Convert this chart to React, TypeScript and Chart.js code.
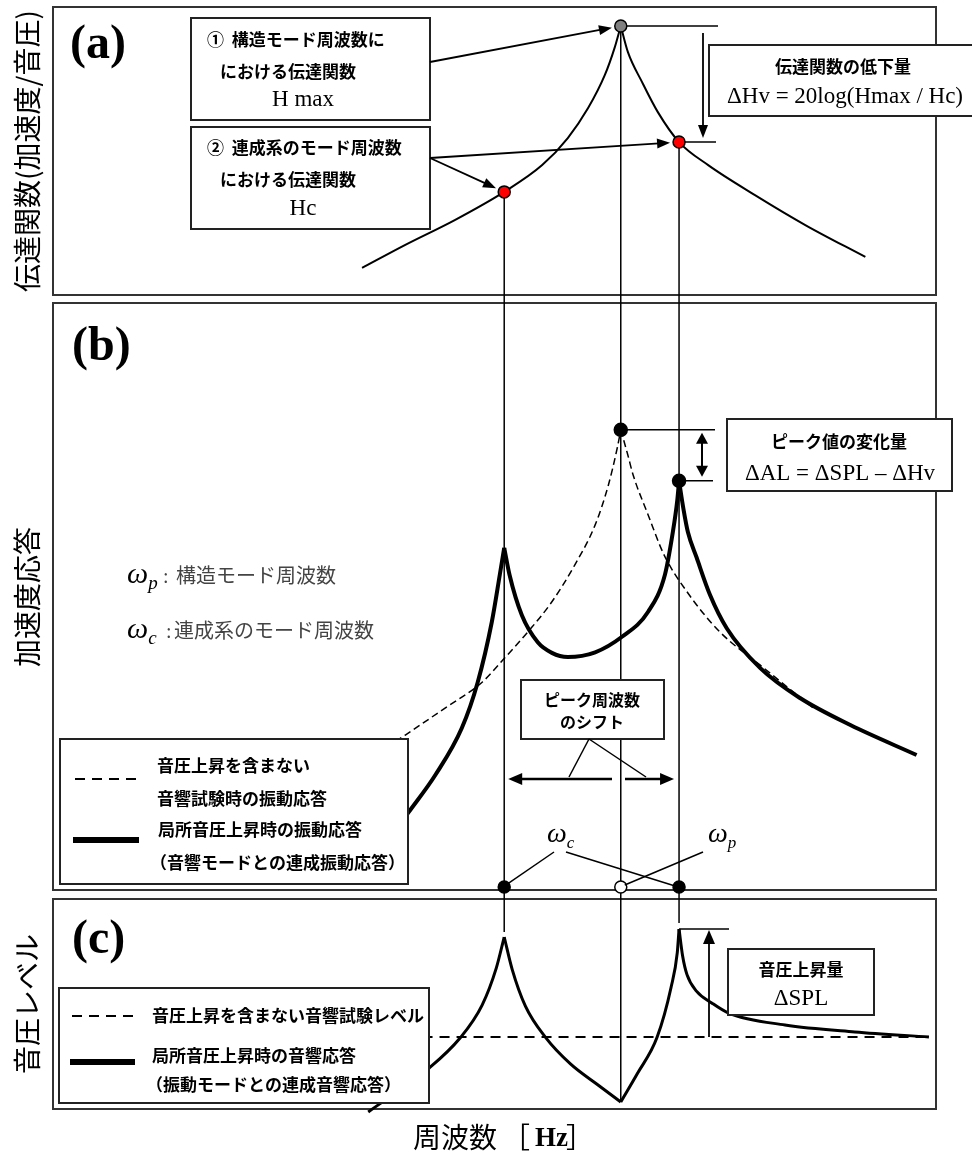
import React, { useEffect, useRef } from "react";
import { Chart, registerables } from "chart.js";

Chart.register(...registerables);

// ---------------- data (frequency axis: linear units 0–100) ----------------
const omegaC1 = 51.1; // coupled mode 1
const omegaP = 64.3; // structural mode
const omegaC2 = 70.9; // coupled mode 2
const markerFreqs = [omegaC1, omegaP, omegaC2];

// (a) transfer function (acceleration / sound pressure)
const tfRiseFreq = [35.0, 39.9, 45.5, 51.1, 55.4, 58.3, 60.6, 62.5, 63.6, 64.3];
const tfRiseLevel = [9.4, 17.4, 26.0, 35.8, 45.1, 54.5, 64.9, 76.4, 85.8, 93.4];
const tfFallFreq = [64.3, 65.1, 66.7, 68.5, 70.9, 74.2, 79.5, 85.2, 92.0];
const tfFallLevel = [93.4, 84.4, 74.0, 63.5, 53.1, 45.1, 34.7, 24.3, 13.2];
const tfMaxLevel = 93.4;
const tfCoupledLevels = [35.8, 53.1];

// (b) acceleration response
const accBaseRiseFreq = [33.6, 39.9, 44.4, 48.6, 51.2, 53.8, 56.5, 59.1, 61.4, 62.9, 63.9, 64.3];
const accBaseRiseLevel = [20.1, 26.4, 31.0, 35.4, 39.6, 44.0, 49.1, 55.4, 62.2, 69.0, 75.3, 78.4];
const accBaseFallFreq = [64.3, 65.1, 65.7, 67.4, 69.2, 71.8, 75.5, 80.1, 86.1];
const accBaseFallLevel = [78.4, 74.1, 70.7, 63.9, 57.1, 50.8, 44.0, 38.3, 31.0];
const accCoupRiseFreq = [38.2, 40.2, 43.3, 46.3, 48.1, 49.7, 50.6, 51.1];
const accCoupRiseLevel = [8.9, 13.1, 19.6, 27.6, 35.4, 45.7, 53.7, 58.3];
const accCoupMidFreq = [51.1, 51.7, 53.1, 54.9, 56.5, 58.3, 61.4, 64.4, 67.4, 69.3, 70.2, 70.7, 70.9];
const accCoupMidLevel = [58.3, 53.7, 46.8, 42.2, 40.4, 39.7, 40.5, 43.1, 47.4, 53.7, 61.0, 66.4, 69.7];
const accCoupFallFreq = [70.9, 71.4, 71.9, 72.9, 74.4, 76.3, 80.1, 84.6, 90.3, 97.8];
const accCoupFallLevel = [69.7, 64.9, 61.0, 56.6, 50.3, 44.6, 37.8, 32.7, 28.1, 23.0];
const accBasePeak = 78.4;
const accCoupPeak = 69.7;
const axisDotLevel = 0.5;

// (c) sound pressure level
const splBaseFreq = [38.0, 99.2];
const splBaseLevel = [34.3, 34.3];
const splRiseFreq = [35.7, 42.6, 46.1, 48.6, 50.2, 51.1];
const splRiseLevel = [-1.4, 19.5, 33.8, 49.5, 67.1, 81.9];
const splDownFreq = [51.1, 52.0, 53.5, 55.8, 58.6, 61.8, 64.3];
const splDownLevel = [81.9, 66.5, 49.0, 34.0, 21.5, 11.2, 3.3];
const splUpFreq = [64.3, 66.2, 68.4, 70.0, 70.7, 70.9];
const splUpLevel = [3.3, 17.0, 34.0, 58.0, 74.5, 85.7];
const splFallFreq = [70.9, 71.3, 71.8, 72.9, 74.6, 76.5, 82.9, 90.8, 99.2];
const splFallLevel = [85.7, 73.0, 64.0, 56.0, 50.5, 45.7, 40.0, 36.7, 34.3];
const splPeak = 85.7;

// vertical guide extents: top in panel (a), bottom in panel (c)
const guideTopA = [35.8, 93.4, 53.1];
const guideBottomC = [84.3, 3.3, 88.6];

// ---------------- layout / style ----------------
const W = 972;
const HGT = 1153;
const PLOT_L = 53;
const PLOT_R = 936;
const PANEL_A = [7, 295];
const PANEL_B = [303, 890];
const PANEL_C = [899, 1109];
const JP = '"Noto Sans CJK JP", "Noto Sans", sans-serif';
const SERIF = '"Liberation Serif", "DejaVu Serif", serif';

const pts = (xs: number[], ys: number[]) => xs.map((x, i) => ({ x, y: ys[i] }));

function seg(ctx: any, x1: number, y1: number, x2: number, y2: number, w = 1.5, dash: number[] = [], color = "#000") {
  ctx.save();
  ctx.beginPath();
  ctx.setLineDash(dash);
  ctx.lineWidth = w;
  ctx.strokeStyle = color;
  ctx.moveTo(x1, y1);
  ctx.lineTo(x2, y2);
  ctx.stroke();
  ctx.restore();
}
function head(ctx: any, x1: number, y1: number, x2: number, y2: number, len = 13, half = 5) {
  const a = Math.atan2(y2 - y1, x2 - x1);
  const c = Math.cos(a), s = Math.sin(a);
  ctx.save();
  ctx.beginPath();
  ctx.moveTo(x2, y2);
  ctx.lineTo(x2 - len * c + half * s, y2 - len * s - half * c);
  ctx.lineTo(x2 - len * c - half * s, y2 - len * s + half * c);
  ctx.closePath();
  ctx.fillStyle = "#000";
  ctx.fill();
  ctx.restore();
}
function arrow(ctx: any, x1: number, y1: number, x2: number, y2: number, w = 1.8, len = 13, half = 5) {
  const a = Math.atan2(y2 - y1, x2 - x1);
  seg(ctx, x1, y1, x2 - (len - 2) * Math.cos(a), y2 - (len - 2) * Math.sin(a), w);
  head(ctx, x1, y1, x2, y2, len, half);
}
function box(ctx: any, x: number, y: number, w: number, h: number, lw = 2) {
  ctx.save();
  ctx.fillStyle = "#fff";
  ctx.fillRect(x, y, w, h);
  ctx.lineWidth = lw;
  ctx.strokeStyle = "#222";
  ctx.strokeRect(x, y, w, h);
  ctx.restore();
}
function txt(ctx: any, s: string, x: number, y: number, font: string, align = "left", color = "#000", baseline = "middle") {
  ctx.save();
  ctx.font = font;
  ctx.fillStyle = color;
  ctx.textAlign = align;
  ctx.textBaseline = baseline;
  ctx.fillText(s, x, y);
  ctx.restore();
}
function omega(ctx: any, x: number, y: number, sub: string, size = 30) {
  ctx.save();
  ctx.font = `italic ${size}px ${SERIF}`;
  ctx.fillStyle = "#000";
  ctx.textBaseline = "alphabetic";
  ctx.fillText("ω", x, y);
  const w = ctx.measureText("ω").width;
  ctx.font = `italic ${Math.round(size * 0.62)}px ${SERIF}`;
  ctx.fillText(sub, x + w, y + size * 0.2);
  ctx.restore();
}
function vtitle(ctx: any, s: string, x: number, y: number) {
  ctx.save();
  ctx.translate(x, y);
  ctx.rotate(-Math.PI / 2);
  ctx.font = `28px ${JP}`;
  ctx.fillStyle = "#000";
  ctx.textAlign = "center";
  ctx.textBaseline = "middle";
  ctx.fillText(s, 0, 0);
  ctx.restore();
}

const schematic = {
  id: "schematic",
  afterLayout(chart: any) {
    const s = chart.scales;
    const setV = (sc: any, r: number[]) => {
      sc.top = r[0];
      sc.bottom = r[1];
      sc.height = r[1] - r[0];
      sc.configure();
    };
    setV(s.ya, PANEL_A);
    setV(s.yb, PANEL_B);
    setV(s.yc, PANEL_C);
    s.x.left = PLOT_L;
    s.x.right = PLOT_R;
    s.x.width = PLOT_R - PLOT_L;
    s.x.configure();
  },
  beforeDraw(chart: any) {
    const ctx = chart.ctx;
    ctx.save();
    ctx.fillStyle = "#fff";
    ctx.fillRect(0, 0, chart.width, chart.height);
    ctx.restore();
  },
  beforeDatasetsDraw(chart: any) {
    const ctx = chart.ctx;
    const { x, ya, yb, yc } = chart.scales;
    // panel frames
    ctx.save();
    ctx.lineWidth = 2;
    ctx.strokeStyle = "#333";
    [PANEL_A, PANEL_B, PANEL_C].forEach((p) => ctx.strokeRect(PLOT_L, p[0], PLOT_R - PLOT_L, p[1] - p[0]));
    ctx.restore();

    // vertical guides through all panels
    markerFreqs.forEach((f, i) => {
      const px = x.getPixelForValue(f);
      seg(ctx, px, ya.getPixelForValue(guideTopA[i]), px, yc.getPixelForValue(guideBottomC[i]), 1.5);
    });

    // (a) reference lines and ΔHv arrow
    const pxP = x.getPixelForValue(omegaP);
    const pxC2 = x.getPixelForValue(omegaC2);
    const yMax = ya.getPixelForValue(tfMaxLevel);
    const yHc = ya.getPixelForValue(tfCoupledLevels[1]);
    seg(ctx, pxP, yMax, 718, yMax, 1.5);
    seg(ctx, pxC2, yHc, 716, yHc, 1.5);
    arrow(ctx, 703, yMax + 7, 703, yHc - 4, 1.8, 13, 5);

    // (b) reference lines and ΔAL arrow
    const yB1 = yb.getPixelForValue(accBasePeak);
    const yB2 = yb.getPixelForValue(accCoupPeak);
    seg(ctx, pxP, yB1, 715, yB1, 1.5);
    seg(ctx, pxC2, yB2, 713, yB2, 1.5);
    seg(ctx, 702, yB1 + 10, 702, yB2 - 10, 2);
    head(ctx, 702, yB2, 702, yB1 + 3, 11, 6);
    head(ctx, 702, yB1, 702, yB2 - 4, 11, 6);

    // (c) reference line and ΔSPL arrow
    const yS = yc.getPixelForValue(splPeak);
    seg(ctx, pxC2, yS, 729, yS, 1.5);
    arrow(ctx, 709, yc.getPixelForValue(splBaseLevel[0]), 709, yS + 1, 1.8, 14, 6);

    // panel labels
    txt(ctx, "(a)", 70, 46, `bold 48px ${SERIF}`);
    txt(ctx, "(b)", 72, 348, `bold 48px ${SERIF}`);
    txt(ctx, "(c)", 72, 941, `bold 48px ${SERIF}`);

    // axis titles
    vtitle(ctx, "伝達関数(加速度/音圧)", 27, 151);
    vtitle(ctx, "加速度応答", 27, 597);
    vtitle(ctx, "音圧レベル", 27, 1004);
    txt(ctx, "周波数", 413, 1137, `28px ${JP}`);
    txt(ctx, "［", 502, 1137, `28px ${JP}`);
    txt(ctx, "Hz", 535, 1139, `bold 27px ${SERIF}`);
    txt(ctx, "］", 566, 1137, `28px ${JP}`);

    // (b) symbol notes
    omega(ctx, 127, 583, "p", 30);
    txt(ctx, ":", 163, 583, `20px ${SERIF}`, "left", "#444", "alphabetic");
    txt(ctx, "構造モード周波数", 176, 583, `20px ${JP}`, "left", "#444", "alphabetic");
    omega(ctx, 127, 638, "c", 30);
    txt(ctx, ":", 166, 638, `20px ${SERIF}`, "left", "#444", "alphabetic");
    txt(ctx, "連成系のモード周波数", 174, 638, `20px ${JP}`, "left", "#444", "alphabetic");
  },
  afterDatasetsDraw(chart: any) {
    const ctx = chart.ctx;
    const { x, ya, yb } = chart.scales;
    const B17 = `bold 17px ${JP}`;
    const B16 = `bold 16px ${JP}`;
    const S23 = `23px ${SERIF}`;

    // ---- (a) boxes ----
    box(ctx, 191, 18, 239, 102);
    txt(ctx, "①  構造モード周波数に", 207, 40, B17);
    txt(ctx, "における伝達関数", 220, 72, B17);
    txt(ctx, "H max", 303, 100, S23, "center");
    box(ctx, 191, 127, 239, 102);
    txt(ctx, "②  連成系のモード周波数", 207, 148, B17);
    txt(ctx, "における伝達関数", 220, 180, B17);
    txt(ctx, "Hc", 303, 209, S23, "center");

    const dotTip = (sx: number, sy: number, f: number, lv: number, r: number) => {
      const tx = x.getPixelForValue(f), ty = ya.getPixelForValue(lv);
      const d = Math.hypot(tx - sx, ty - sy);
      return [tx - ((tx - sx) / d) * r, ty - ((ty - sy) / d) * r];
    };
    let t = dotTip(430, 62, omegaP, tfMaxLevel, 9);
    arrow(ctx, 430, 62, t[0], t[1], 1.8);
    t = dotTip(430, 158, omegaC2, tfCoupledLevels[1], 9);
    arrow(ctx, 430, 158, t[0], t[1], 1.8);
    t = dotTip(430, 158, omegaC1, tfCoupledLevels[0], 9);
    arrow(ctx, 430, 158, t[0], t[1], 1.8);

    box(ctx, 709, 45, 270, 71);
    txt(ctx, "伝達関数の低下量", 843, 67, B17, "center");
    txt(ctx, "ΔHv = 20log(Hmax / Hc)", 845, 97, S23, "center");

    // ---- (b) boxes ----
    box(ctx, 727, 419, 225, 72);
    txt(ctx, "ピーク値の変化量", 839, 442, B17, "center");
    txt(ctx, "ΔAL = ΔSPL – ΔHv", 840, 474, S23, "center");

    box(ctx, 60, 739, 348, 145);
    seg(ctx, 75, 779, 140, 779, 2, [10, 7]);
    txt(ctx, "音圧上昇を含まない", 157, 766, B17);
    txt(ctx, "音響試験時の振動応答", 157, 799, B17);
    seg(ctx, 73, 840, 139, 840, 6);
    txt(ctx, "局所音圧上昇時の振動応答", 158, 830, B17);
    txt(ctx, "（音響モードとの連成振動応答）", 150, 863, B17);

    box(ctx, 521, 680, 143, 59);
    txt(ctx, "ピーク周波数", 592, 700, B16, "center");
    txt(ctx, "のシフト", 592, 722, B16, "center");
    seg(ctx, 589, 739, 569, 777, 1.5);
    seg(ctx, 589, 739, 646, 777, 1.5);
    const pxC1 = x.getPixelForValue(omegaC1);
    const pxP = x.getPixelForValue(omegaP);
    const pxC2 = x.getPixelForValue(omegaC2);
    arrow(ctx, 612, 779, pxC1 + 4, 779, 2.6, 14, 6);
    arrow(ctx, 625, 779, pxC2 - 5, 779, 2.6, 14, 6);

    // ω labels + leaders to axis dots
    const yDot = yb.getPixelForValue(axisDotLevel);
    omega(ctx, 547, 842, "c", 28);
    omega(ctx, 708, 842, "p", 28);
    seg(ctx, 554, 852, pxC1 + 3, yDot - 3, 1.5);
    seg(ctx, 566, 852, pxC2 - 4, yDot - 1, 1.5);
    seg(ctx, 703, 852, pxP + 4, yDot - 2, 1.5);

    // ---- (c) boxes ----
    box(ctx, 728, 949, 146, 66);
    txt(ctx, "音圧上昇量", 801, 970, B17, "center");
    txt(ctx, "ΔSPL", 801, 999, S23, "center");

    box(ctx, 59, 988, 370, 115);
    seg(ctx, 72, 1016, 135, 1016, 2, [10, 7]);
    txt(ctx, "音圧上昇を含まない音響試験レベル", 152, 1016, B17);
    seg(ctx, 70, 1062, 135, 1062, 6);
    txt(ctx, "局所音圧上昇時の音響応答", 152, 1056, B17);
    txt(ctx, "（振動モードとの連成音響応答）", 146, 1085, B17);
  },
};

const line = (label: string, data: any[], yAxisID: string, extra: any = {}) => ({
  type: "line",
  label,
  data,
  xAxisID: "x",
  yAxisID,
  borderColor: "#000",
  borderWidth: 2,
  pointRadius: 0,
  pointHoverRadius: 0,
  fill: false,
  cubicInterpolationMode: "monotone",
  clip: false,
  ...extra,
});
const dots = (label: string, data: any[], yAxisID: string, colors: string[], r = 6) => ({
  type: "line",
  label,
  data,
  xAxisID: "x",
  yAxisID,
  showLine: false,
  pointRadius: r,
  pointHoverRadius: r,
  pointBackgroundColor: colors,
  pointBorderColor: "#000",
  pointBorderWidth: 1.5,
  clip: false,
});

export default function App() {
  const ref = useRef<HTMLCanvasElement | null>(null);
  useEffect(() => {
    if (!ref.current) return;
    const chart = new Chart(ref.current, {
      type: "line",
      data: {
        datasets: [
          dots("Hmax", [{ x: omegaP, y: tfMaxLevel }], "ya", ["#808080"], 6),
          dots("Hc", [{ x: omegaC1, y: tfCoupledLevels[0] }, { x: omegaC2, y: tfCoupledLevels[1] }], "ya", ["#ff0000", "#ff0000"], 6),
          dots("peaks", [{ x: omegaP, y: accBasePeak }, { x: omegaC2, y: accCoupPeak }], "yb", ["#000", "#000"], 6.5),
          dots("modes", markerFreqs.map((f) => ({ x: f, y: axisDotLevel })), "yb", ["#000", "#fff", "#000"], 6),
          line("tf rise", pts(tfRiseFreq, tfRiseLevel), "ya"),
          line("tf fall", pts(tfFallFreq, tfFallLevel), "ya"),
          line("acc coupled rise", pts(accCoupRiseFreq, accCoupRiseLevel), "yb", { borderWidth: 4 }),
          line("acc coupled mid", pts(accCoupMidFreq, accCoupMidLevel), "yb", { borderWidth: 4 }),
          line("acc coupled fall", pts(accCoupFallFreq, accCoupFallLevel), "yb", { borderWidth: 4 }),
          line("acc base rise", pts(accBaseRiseFreq, accBaseRiseLevel), "yb", { borderWidth: 1.5, borderDash: [7, 4] }),
          line("acc base fall", pts(accBaseFallFreq, accBaseFallLevel), "yb", { borderWidth: 1.5, borderDash: [7, 4] }),
          line("spl rise", pts(splRiseFreq, splRiseLevel), "yc", { borderWidth: 3 }),
          line("spl down", pts(splDownFreq, splDownLevel), "yc", { borderWidth: 3 }),
          line("spl up", pts(splUpFreq, splUpLevel), "yc", { borderWidth: 3 }),
          line("spl fall", pts(splFallFreq, splFallLevel), "yc", { borderWidth: 3 }),
          line("spl base", pts(splBaseFreq, splBaseLevel), "yc", { borderWidth: 2, borderDash: [10, 7], cubicInterpolationMode: "default", tension: 0 }),
        ] as any,
      },
      options: {
        responsive: false,
        maintainAspectRatio: false,
        devicePixelRatio: 1,
        animation: false,
        events: [],
        layout: { padding: { left: PLOT_L, right: W - PLOT_R, top: PANEL_A[0], bottom: HGT - PANEL_C[1] } },
        plugins: { legend: { display: false }, tooltip: { enabled: false } },
        scales: {
          x: { type: "linear", position: "bottom", min: 0, max: 100, display: false },
          ya: { type: "linear", position: "left", min: 0, max: 100, display: false },
          yb: { type: "linear", position: "left", min: 0, max: 100, display: false },
          yc: { type: "linear", position: "left", min: 0, max: 100, display: false },
        },
      } as any,
      plugins: [schematic as any],
    });
    return () => chart.destroy();
  }, []);
  return (
    <div style={{ position: "absolute", left: 0, top: 0, width: W, height: HGT, background: "#fff" }}>
      <canvas ref={ref} width={W} height={HGT} style={{ display: "block", width: W, height: HGT }} />
    </div>
  );
}
